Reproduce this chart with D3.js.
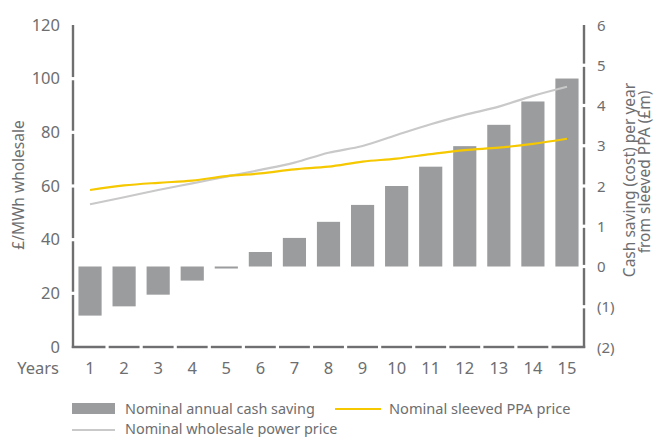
<!DOCTYPE html>
<html><head><meta charset="utf-8">
<script src="https://cdn.jsdelivr.net/npm/d3@7"></script>
<style>body{margin:0;background:#fff}text{font-family:"Noto Sans",sans-serif;fill:#6d6e70}</style>
</head><body><svg id="c" width="656" height="437"></svg>
<script>
const years = [1,2,3,4,5,6,7,8,9,10,11,12,13,14,15];
const cashSaving = [-1.22,-0.99,-0.70,-0.35,-0.05,0.36,0.71,1.11,1.53,2.0,2.48,2.99,3.52,4.1,4.67];
const ppaPrice = [58.5,60.2,61.2,62.0,63.7,64.7,66.2,67.2,69.1,70.2,71.9,73.4,74.3,75.7,77.6];
const wholesalePrice = [53.2,55.8,58.5,61.0,63.5,66.0,68.7,72.4,74.9,79.0,83.0,86.5,89.6,93.6,97.0];
const leftTicks = [0,20,40,60,80,100,120];
const rightTicks = [-2,-1,0,1,2,3,4,5,6];
const rightTickLabels = ["(2)","(1)","0","1","2","3","4","5","6"];

const svg = d3.select("#c");
const L=73, R=584, T=25, B=347;
const x = d3.scaleBand().domain(years).range([L,R]).paddingInner(0.32).paddingOuter(0.16);
const yL = d3.scaleLinear().domain([0,120]).range([B,T]);
const yR = d3.scaleLinear().domain([-2,6]).range([B,T]);
const axisCol="#6f6f71";

// bars
svg.append("g").selectAll("rect").data(years).join("rect")
  .attr("x",d=>x(d)).attr("width",x.bandwidth())
  .attr("y",(d,i)=>Math.min(yR(0),yR(cashSaving[i])))
  .attr("height",(d,i)=>Math.max(1.5,Math.abs(yR(cashSaving[i])-yR(0))))
  .attr("fill","#9b9c9e");

// lines
const cx = d=>x(d)+x.bandwidth()/2;
const lineW = d3.line().x((d,i)=>cx(years[i])).y(d=>yL(d)).curve(d3.curveMonotoneX);
svg.append("path").attr("d",lineW(wholesalePrice)).attr("fill","none").attr("stroke","#c9c9c9").attr("stroke-width",2.2);
svg.append("path").attr("d",lineW(ppaPrice)).attr("fill","none").attr("stroke","#f5c800").attr("stroke-width",2.2);

// segmented axes
const gap=1.6;
function vSeg(xpos, scale, ticks){
  const ys = ticks.map(t=>scale(t)).sort((a,b)=>a-b);
  for(let i=0;i<ys.length-1;i++){
    svg.append("line").attr("x1",xpos).attr("x2",xpos)
      .attr("y1",ys[i]+(i==0?0:gap)).attr("y2",ys[i+1]-(i==ys.length-2?-1:gap))
      .attr("stroke",axisCol).attr("stroke-width",2.4);
  }
}
vSeg(L,yL,leftTicks);
vSeg(R,yR,rightTicks);
for(let i=0;i<years.length;i++){
  const x0 = L + i*(R-L)/years.length, x1 = L+(i+1)*(R-L)/years.length;
  svg.append("line").attr("x1",x0+(i==0?-1.2:gap)).attr("x2",x1-(i==years.length-1?-1.2:gap))
    .attr("y1",B).attr("y2",B).attr("stroke",axisCol).attr("stroke-width",2.4);
}

// tick labels
svg.append("g").selectAll("text").data(leftTicks).join("text")
  .attr("x",60).attr("y",d=>yL(d)+5.5).attr("text-anchor","end").attr("font-size",16.5).text(d=>d);
svg.append("g").selectAll("text").data(rightTicks).join("text")
  .attr("x",597).attr("y",d=>yR(d)+5.5).attr("text-anchor","start").attr("font-size",15).text((d,i)=>rightTickLabels[i]);
svg.append("g").selectAll("text").data(years).join("text")
  .attr("x",d=>cx(d)).attr("y",374).attr("text-anchor","middle").attr("font-size",16.5).text(d=>d);
svg.append("text").attr("x",59).attr("y",374).attr("text-anchor","end").attr("font-size",16.5).text("Years");

// axis titles
svg.append("text").attr("transform","translate(24,185) rotate(-90)").attr("text-anchor","middle").attr("font-size",15.5).text("£/MWh wholesale");
svg.append("text").attr("transform","translate(635,180) rotate(-90)").attr("text-anchor","middle").attr("font-size",15.5).text("Cash saving (cost) per year");
svg.append("text").attr("transform","translate(650,172) rotate(-90)").attr("text-anchor","middle").attr("font-size",15.5).text("from sleeved PPA (£m)");

// legend
const lg = svg.append("g");
lg.append("rect").attr("x",72).attr("y",403).attr("width",43).attr("height",11).attr("fill","#9b9c9e");
lg.append("text").attr("x",125).attr("y",414).attr("font-size",14.4).text("Nominal annual cash saving");
lg.append("line").attr("x1",335).attr("x2",381).attr("y1",409).attr("y2",409).attr("stroke","#f5c800").attr("stroke-width",2.2);
lg.append("text").attr("x",389).attr("y",414).attr("font-size",14.6).text("Nominal sleeved PPA price");
lg.append("line").attr("x1",72).attr("x2",115).attr("y1",430).attr("y2",430).attr("stroke","#c9c9c9").attr("stroke-width",2.2);
lg.append("text").attr("x",125).attr("y",434).attr("font-size",14.4).text("Nominal wholesale power price");
</script></body></html>
